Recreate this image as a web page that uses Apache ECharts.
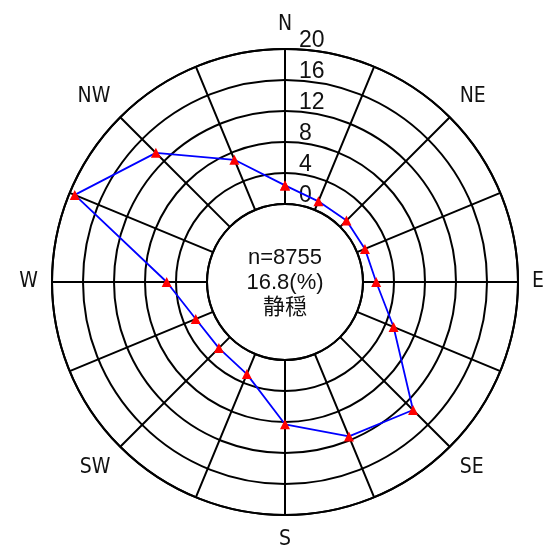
<!DOCTYPE html>
<html>
<head>
<meta charset="utf-8">
<script src="https://cdn.jsdelivr.net/npm/echarts@6/dist/echarts.min.js"></script>
<style>
html,body{margin:0;padding:0;background:#fff;}
#chart{width:548px;height:545px;}
</style>
</head>
<body>
<div id="chart"></div>
<script>
const directions = ['N','NNE','NE','ENE','E','ESE','SE','SSE','S','SSW','SW','WSW','W','WNW','NW','NNW'];
const frequencies = [2.4, 1.2, 1.15, 1.1, 1.7, 5.1, 13.3, 11.5, 8.3, 2.8, 2.0, 2.4, 5.2, 19.3, 13.5, 7.0];
const radialTicks = [0, 4, 8, 12, 16, 20];
const sampleCount = 8755;
const calmPercent = 16.8;
const calmLabel = '静穏';

const step = 360 / directions.length;
const chart = echarts.init(document.getElementById('chart'), null, {renderer: 'canvas'});
const lineData = directions.map((d, i) => [frequencies[i], i * step]);
lineData.push([frequencies[0], directions.length * step]);

chart.setOption({
  backgroundColor: '#fff',
  animation: false,
  polar: {
    center: [285, 282],
    radius: [78, 233]
  },
  angleAxis: {
    type: 'value',
    min: 0,
    max: 360,
    interval: step,
    startAngle: 90,
    clockwise: true,
    axisLine: {show: true, lineStyle: {color: '#000', width: 2}},
    axisTick: {show: false},
    axisLabel: {
      show: true,
      margin: 14,
      fontFamily: "'DejaVu Sans Condensed', 'Liberation Sans', sans-serif",
      fontSize: 21,
      color: '#111',
      formatter: function (v) {
        const idx = Math.round(v / step);
        if (idx >= directions.length || idx % 2 !== 0) return '';
        return directions[idx];
      }
    },
    splitLine: {show: true, lineStyle: {color: '#000', width: 2}},
    splitArea: {show: false}
  },
  radiusAxis: {
    type: 'value',
    min: radialTicks[0],
    max: radialTicks[radialTicks.length - 1],
    interval: radialTicks[1] - radialTicks[0],
    axisLine: {show: false},
    axisTick: {show: false},
    axisLabel: {
      show: true,
      fontFamily: "'Liberation Sans', sans-serif",
      fontSize: 23,
      lineHeight: 16,
      color: '#111',
      margin: -14,
      align: 'left',
      verticalAlign: 'bottom'
    },
    splitLine: {show: true, lineStyle: {color: '#000', width: 2}},
    z: 5
  },
  graphic: [{
    type: 'text',
    x: 285,
    y: 245,
    style: {
      text: 'n=' + sampleCount + '\n' + calmPercent.toFixed(1) + '(%)\n' + calmLabel,
      fontFamily: "'Liberation Sans', 'Noto Sans CJK JP', sans-serif",
      fontSize: 22,
      lineHeight: 25,
      fill: '#111',
      align: 'center',
      textAlign: 'center'
    }
  }],
  series: [{
    type: 'line',
    coordinateSystem: 'polar',
    data: lineData,
    symbol: 'triangle',
    symbolSize: 10,
    showAllSymbol: true,
    itemStyle: {color: '#ff0000'},
    lineStyle: {color: '#0000ff', width: 1.8},
    z: 10
  }]
});
</script>
</body>
</html>
